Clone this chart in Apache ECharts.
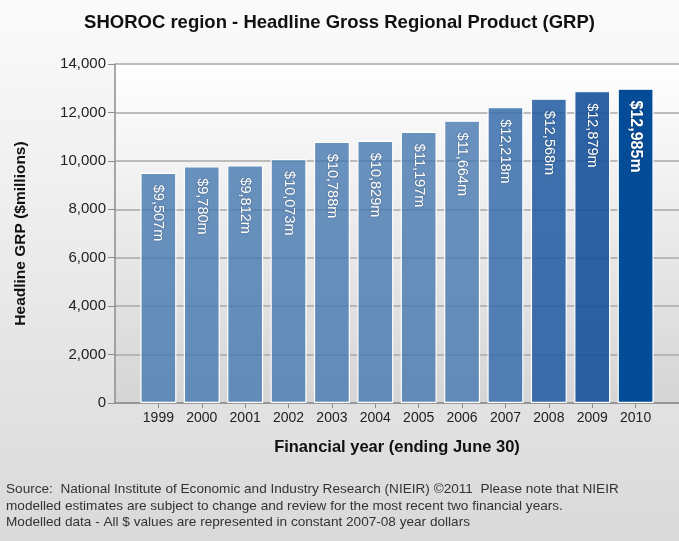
<!DOCTYPE html>
<html>
<head>
<meta charset="utf-8">
<script src="https://cdn.jsdelivr.net/npm/echarts@6/dist/echarts.min.js"></script>
<style>
  html, body { margin: 0; padding: 0; background: #fff; }
  #chart { width: 679px; height: 541px; }
</style>
</head>
<body>
<div id="chart"></div>
<script>
const years = ['1999','2000','2001','2002','2003','2004','2005','2006','2007','2008','2009','2010'];
const grpValues = [9507, 9780, 9812, 10073, 10788, 10829, 11197, 11664, 12218, 12568, 12879, 12985];
const yTicks = [0, 2000, 4000, 6000, 8000, 10000, 12000, 14000];
const barColors = [
  'rgba(70,120,176,0.80)', 'rgba(70,120,176,0.80)', 'rgba(70,120,176,0.80)', 'rgba(70,120,176,0.80)',
  'rgba(70,120,176,0.80)', 'rgba(70,120,176,0.80)', 'rgba(70,120,176,0.80)', 'rgba(70,120,176,0.80)',
  'rgba(54,108,170,0.84)', 'rgba(34,92,162,0.87)', 'rgba(24,82,156,0.91)', 'rgba(0,72,150,0.98)'
];
const titleText = 'SHOROC region - Headline Gross Regional Product (GRP)';
const footerText = 'Source:  National Institute of Economic and Industry Research (NIEIR) \u00A92011  Please note that NIEIR\nmodelled estimates are subject to change and review for the most recent two financial years.\nModelled data - All $ values are represented in constant 2007-08 year dollars';

const idx = years.map((y, i) => i);
const fmt = v => v.toLocaleString('en-US');

const barData = grpValues.map((v, i) => {
  const last = i === grpValues.length - 1;
  return {
    value: [i, v],
    itemStyle: { color: barColors[i] },
    label: last ? { fontWeight: 'bold', fontSize: 16 } : {}
  };
});

const chart = echarts.init(document.getElementById('chart'), null, { renderer: 'canvas' });
chart.setOption({
  backgroundColor: {
    type: 'linear', x: 0, y: 0, x2: 0, y2: 1,
    colorStops: [{ offset: 0, color: '#fbfbfb' }, { offset: 1, color: '#d9d9d9' }]
  },
  textStyle: { fontFamily: 'Liberation Sans, Arial, sans-serif' },
  title: [
    {
      text: titleText, left: 'center', top: 8,
      textStyle: { fontSize: 18.5, fontWeight: 'bold', color: '#111', fontFamily: 'Liberation Sans, Arial, sans-serif' }
    },
    {
      text: footerText, left: 1, top: 476,
      textStyle: { fontSize: 13.6, fontWeight: 'normal', color: '#333', lineHeight: 16.5, fontFamily: 'Liberation Sans, Arial, sans-serif' }
    }
  ],
  grid: {
    left: 115, right: 0, top: 64, bottom: 138,
    show: true, borderWidth: 0,
    backgroundColor: {
      type: 'linear', x: 0, y: 0, x2: 0, y2: 1,
      colorStops: [{ offset: 0, color: '#ffffff' }, { offset: 1, color: '#d5d5d5' }]
    }
  },
  xAxis: {
    type: 'value', min: -1, max: 12, interval: 1,
    name: 'Financial year (ending June 30)',
    nameLocation: 'middle', nameGap: 36,
    nameTextStyle: { fontSize: 16.5, fontWeight: 'bold', color: '#111' },
    axisLine: { show: true, onZero: false, lineStyle: { color: '#8c8c8c', width: 1.5 } },
    axisTick: { show: true, length: 5, lineStyle: { color: '#8c8c8c' }, customValues: idx },
    axisLabel: {
      customValues: idx, fontSize: 14, color: '#222', margin: 8,
      formatter: v => (Number.isInteger(v) && years[v]) ? years[v] : ''
    },
    splitLine: { show: false }
  },
  yAxis: {
    type: 'value', min: 0, max: 14000, interval: 2000,
    name: 'Headline GRP ($millions)',
    nameLocation: 'middle', nameGap: 86, nameRotate: 90,
    nameTextStyle: { fontSize: 15.5, fontWeight: 'bold', color: '#111' },
    axisLine: { show: true, onZero: false, lineStyle: { color: '#8c8c8c', width: 1.5 } },
    axisTick: { show: true, length: 7, lineStyle: { color: '#8c8c8c' } },
    axisLabel: { fontSize: 15, color: '#222', margin: 9, formatter: v => fmt(v) },
    splitLine: { show: true, lineStyle: { color: '#a8a8a8', width: 1.5 } }
  },
  series: [{
    type: 'bar',
    data: barData,
    barWidth: 36,
    itemStyle: { borderColor: '#ffffff', borderWidth: 1.2 },
    label: {
      show: true, position: 'insideTop', distance: 12,
      rotate: -90, align: 'left', verticalAlign: 'middle',
      color: '#ffffff', fontSize: 14.5,
      textShadowColor: 'rgba(0,0,0,0.35)', textShadowBlur: 2,
      formatter: p => '$' + fmt(p.value[1]) + 'm'
    }
  }]
});
</script>
</body>
</html>
